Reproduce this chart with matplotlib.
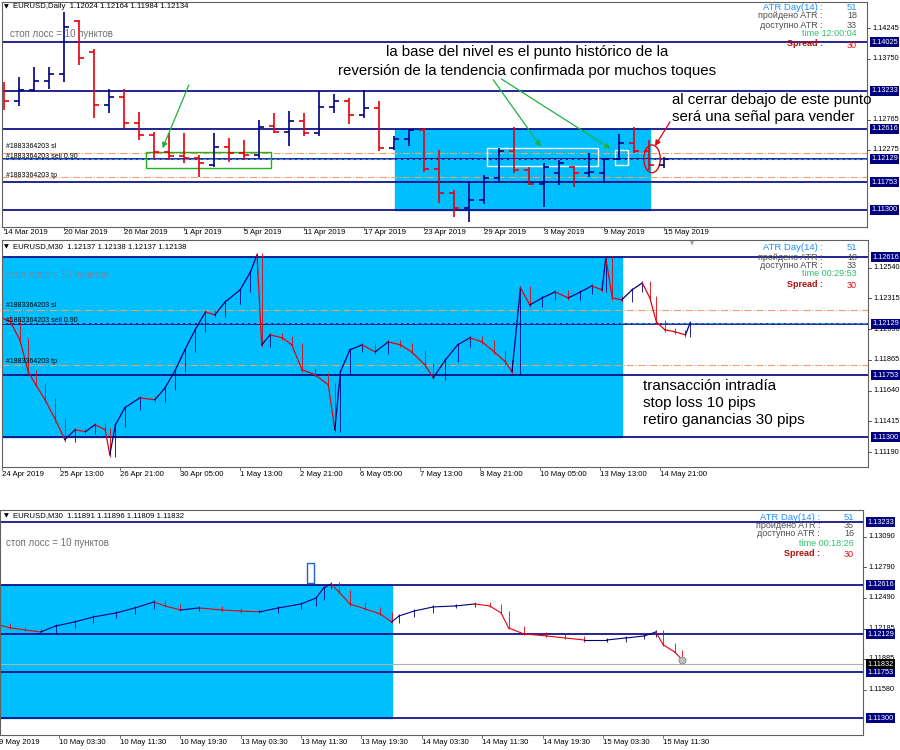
import numpy as np
import matplotlib
matplotlib.use("Agg")
import matplotlib.pyplot as plt
from matplotlib.patches import Rectangle, Ellipse

plt.rcParams['font.family'] = ['Liberation Sans', 'DejaVu Sans']
NARROW = ['Liberation Sans Narrow', 'Liberation Sans', 'DejaVu Sans']

NAVY = '#00007f'
RED = '#e8000b'
SKY = '#00bfff'
ORANGE = '#f0a070'

# levels drawn on every chart
levels = [1.14025, 1.13233, 1.12616, 1.12129, 1.11753, 1.11300]
sell_price = 1.12129
sl_price = 1.12229
tp_price = 1.11829

# ---- daily chart, 14 Mar - 15 May 2019 ----
d_dates = ['14 Mar 2019', '20 Mar 2019', '26 Mar 2019', '1 Apr 2019', '5 Apr 2019', '11 Apr 2019',
           '17 Apr 2019', '23 Apr 2019', '29 Apr 2019', '3 May 2019', '9 May 2019', '15 May 2019']
d_open = [1.1324, 1.1306, 1.1325, 1.1340, 1.1350, 1.1436, 1.1386, 1.1300, 1.1313, 1.1271, 1.1252,
          1.1224, 1.1218, 1.1214, 1.1203, 1.1232, 1.1222, 1.1219, 1.1266, 1.1257, 1.1275, 1.1255,
          1.1297, 1.1306, 1.1284, 1.1296, 1.1231, 1.1245, 1.1260, 1.1197, 1.1158, 1.1133, 1.1146,
          1.1182, 1.1226, 1.1195, 1.1172, 1.1190, 1.1200, 1.1190, 1.1190, 1.1212, 1.1239, 1.1225, 1.12024]
d_high = [1.1338, 1.1345, 1.1362, 1.1362, 1.1451, 1.1438, 1.1391, 1.1326, 1.1327, 1.1289, 1.1257,
          1.1255, 1.1255, 1.1219, 1.1255, 1.1247, 1.1243, 1.1276, 1.1288, 1.1290, 1.1288, 1.1323,
          1.1318, 1.1312, 1.1324, 1.1306, 1.1250, 1.1262, 1.1263, 1.1227, 1.1163, 1.1174, 1.1187,
          1.1230, 1.1265, 1.1200, 1.1206, 1.1211, 1.1202, 1.1222, 1.1214, 1.1253, 1.1265, 1.1244, 1.12164]
d_low = [1.1293, 1.1299, 1.1322, 1.1327, 1.1338, 1.1366, 1.1279, 1.1288, 1.1263, 1.1244, 1.1213,
         1.1211, 1.1206, 1.1184, 1.1200, 1.1208, 1.1211, 1.1214, 1.1255, 1.1233, 1.1250, 1.1250,
         1.1288, 1.1270, 1.1280, 1.1226, 1.1228, 1.1233, 1.1192, 1.1141, 1.1118, 1.1111, 1.1140,
         1.1177, 1.1190, 1.1171, 1.1135, 1.1171, 1.1167, 1.1184, 1.1174, 1.1212, 1.1222, 1.1195, 1.11984]
d_close = [1.1306, 1.1325, 1.1340, 1.1350, 1.1427, 1.1376, 1.1300, 1.1313, 1.1271, 1.1252, 1.1224,
           1.1218, 1.1214, 1.1206, 1.1232, 1.1222, 1.1219, 1.1265, 1.1257, 1.1275, 1.1255, 1.1297,
           1.1306, 1.1284, 1.1296, 1.1231, 1.1245, 1.1260, 1.1197, 1.1158, 1.1133, 1.1146, 1.1182,
           1.1226, 1.1195, 1.1172, 1.1200, 1.1206, 1.1190, 1.1192, 1.1212, 1.1239, 1.1225, 1.1203, 1.12134]

# ---- M30 chart, 24 Apr - 14 May (sampled closes, bar index) ----
m1_labels = ['24 Apr 2019', '25 Apr 13:00', '26 Apr 21:00', '30 Apr 05:00', '1 May 13:00', '2 May 21:00',
             '6 May 05:00', '7 May 13:00', '8 May 21:00', '10 May 05:00', '13 May 13:00', '14 May 21:00']
m1_bar = [0, 9, 19, 28, 36, 46, 57, 67, 78, 89, 99, 110, 115, 121, 131, 147, 163, 174, 185, 195,
          206, 217, 227, 238, 254, 265, 272, 277, 286, 299, 309, 320, 334, 348, 355, 361, 371, 384,
          398, 412, 425, 437, 451, 460, 473, 486, 499, 512, 525, 537, 544, 553, 563, 576, 590, 604,
          617, 629, 640, 644, 651, 661, 672, 683, 691, 698, 707, 718, 729, 734]
m1_close = [1.12172, 1.12143, 1.12011, 1.11778, 1.11683, 1.11573, 1.11427, 1.11281, 1.11354, 1.11339,
            1.11390, 1.11354, 1.11171, 1.11390, 1.11514, 1.11587, 1.11573, 1.11661, 1.11792, 1.11938,
            1.12085, 1.12216, 1.12194, 1.12289, 1.12377, 1.12508, 1.12633, 1.11975, 1.12048, 1.12026,
            1.11975, 1.11792, 1.11756, 1.11683, 1.11354, 1.11778, 1.11938, 1.11975, 1.11923, 1.11997,
            1.11975, 1.11923, 1.11829, 1.11734, 1.11865, 1.11975, 1.12026, 1.11997, 1.11923, 1.11850,
            1.11778, 1.12392, 1.12267, 1.12318, 1.12362, 1.12318, 1.12362, 1.12406, 1.12377, 1.12611,
            1.12318, 1.12304, 1.12377, 1.12428, 1.12318, 1.12143, 1.12085, 1.12070, 1.12048, 1.12136]

# ---- M30 chart, 9 May - 15 May ----
m2_labels = ['9 May 2019', '10 May 03:30', '10 May 11:30', '10 May 19:30', '13 May 03:30', '13 May 11:30',
             '13 May 19:30', '14 May 03:30', '14 May 11:30', '14 May 19:30', '15 May 03:30', '15 May 11:30']
m2_bar = [0, 3, 7, 11, 15, 20, 25, 31, 36, 41, 44, 48, 53, 59, 64, 69, 74, 80, 84, 86, 88, 90, 93,
          97, 101, 104, 106, 110, 115, 121, 126, 130, 133, 135, 139, 145, 150, 155, 161, 166, 171,
          174, 176, 179, 181]
m2_close = [1.12220, 1.12191, 1.12171, 1.12151, 1.12210, 1.12250, 1.12299, 1.12339, 1.12388, 1.12447,
            1.12408, 1.12368, 1.12388, 1.12368, 1.12358, 1.12349, 1.12388, 1.12427, 1.12486, 1.12585,
            1.12625, 1.12546, 1.12427, 1.12378, 1.12329, 1.12250, 1.12309, 1.12358, 1.12398, 1.12408,
            1.12427, 1.12408, 1.12339, 1.12191, 1.12132, 1.12112, 1.12092, 1.12072, 1.12072, 1.12092,
            1.12112, 1.12151, 1.12023, 1.11954, 1.11876]


def fx(px):
    return px / 900


def fy(py):
    return 1 - py / 750


def ohlc(ax, x, o, h, l, c, tick):
    for xi, oi, hi, li, ci in zip(x, o, h, l, c):
        col = NAVY if ci >= oi else RED
        ax.vlines(xi, li, hi, color=col, lw=1.2)
        ax.hlines(oi, xi - tick, xi, color=col, lw=1.2)
        ax.hlines(ci, xi, xi + tick, color=col, lw=1.2)


def closes(ax, x, c, lw=0.9):
    for i in range(1, len(x)):
        col = NAVY if c[i] >= c[i - 1] else RED
        ax.plot([x[i - 1], x[i]], [c[i - 1], c[i]], color=col, lw=lw)
        ax.vlines(x[i], min(c[i - 1], c[i]) - 0.00015, max(c[i - 1], c[i]) + 0.00015, color=col, lw=0.6)


def frame(ax, ylim, xlim):
    ax.set_xlim(*xlim)
    ax.set_ylim(*ylim)
    ax.set_xticks([])
    ax.set_yticks([])
    for s in ax.spines.values():
        s.set_color('#606060')
        s.set_linewidth(0.8)


def header(xpx, ypx, txt):
    fig.text(fx(xpx), fy(ypx), '\u25bc', fontsize=4.5, va='center', ha='left', family='DejaVu Sans')
    fig.text(fx(xpx + 9), fy(ypx), txt, fontsize=5.6, va='center', ha='left', family=NARROW)


def right_labels(ax, xr, plain, boxed, extra_box=None):
    for v in plain:
        y = ax.transData.transform((0, v))[1]
        fig.add_artist(plt.Line2D([fx(xr), fx(xr + 3)], [y / 750, y / 750], color='#404040', lw=0.6))
        fig.text(fx(xr + 5), y / 750, '%.5f' % v, fontsize=5.3, va='center', ha='left')
    for v in boxed:
        y = ax.transData.transform((0, v))[1]
        fig.text(fx(xr + 4), y / 750, '%.5f' % v, fontsize=5.3, va='center', ha='left', color='white',
                 bbox=dict(boxstyle='square,pad=0.2', fc=NAVY, ec='none'))
    if extra_box is not None:
        y = ax.transData.transform((0, extra_box))[1]
        fig.text(fx(xr + 4), y / 750, '%.5f' % extra_box, fontsize=5.3, va='center', ha='left', color='white',
                 bbox=dict(boxstyle='square,pad=0.2', fc='black', ec='none'))


def info(xl, xv, ys, passed, avail, time):
    fig.text(fx(xl), fy(ys[0]), 'ATR Day(14) :', fontsize=6.8, color='#1e90ff', ha='right', va='center')
    fig.text(fx(xv), fy(ys[0]), '51', fontsize=6.8, color='#1e90ff', ha='right', va='center')
    fig.text(fx(xl), fy(ys[1]), 'пройдено ATR :', fontsize=6.5, color='#505050', ha='right', va='center')
    fig.text(fx(xv), fy(ys[1]), passed, fontsize=6.5, color='#505050', ha='right', va='center')
    fig.text(fx(xl), fy(ys[2]), 'доступно ATR :', fontsize=6.5, color='#505050', ha='right', va='center')
    fig.text(fx(xv), fy(ys[2]), avail, fontsize=6.5, color='#505050', ha='right', va='center')
    fig.text(fx(xv), fy(ys[3]), 'time ' + time, fontsize=6.5, color='#30c070', ha='right', va='center')
    fig.text(fx(xl), fy(ys[4]), 'Spread :', fontsize=6.5, color='#b01010', ha='right', va='center',
             fontweight='bold')
    fig.text(fx(xv), fy(ys[4] + 1.5), '30', fontsize=6.5, color='#e01010', ha='right', va='center')


def x_labels(ax, pos, labels, ypx, ybot):
    for p, t in zip(pos, labels):
        x = ax.transData.transform((p, 0))[0]
        fig.text(x / 900, fy(ypx), t, fontsize=5.6, ha='left', va='center', family=NARROW)
        fig.add_artist(plt.Line2D([x / 900, x / 900], [fy(ybot), fy(ybot + 3)], color='#606060', lw=0.6))


fig = plt.figure(figsize=(9, 7.5), dpi=100)
fig.patch.set_facecolor('white')

# ---------- panel 1 ----------
ax1 = fig.add_axes([fx(2), fy(227), fx(865), 225 / 750])
frame(ax1, (1.11024, 1.14674), (-0.13, 57.53))
ax1.add_patch(Rectangle((26.07, 1.11300), 17.0, 1.12616 - 1.11300, color=SKY, zorder=0))
for lv in levels:
    ax1.axhline(lv, color=NAVY, lw=1.2, zorder=1)
ax1.axhline(sl_price, color=ORANGE, lw=0.8, ls='-.', zorder=1)
ax1.axhline(tp_price, color=ORANGE, lw=0.8, ls='-.', zorder=1)
ax1.axhline(sell_price + 0.00005, color='#40a0e0', lw=0.8, ls='--', zorder=1)
ohlc(ax1, np.arange(len(d_open)), d_open, d_high, d_low, d_close, 0.35)
fig.text(fx(6), fy(148), '#1883364203 sl', fontsize=5)
fig.text(fx(6), fy(158), '#1883364203 sell 0.90', fontsize=5)
fig.text(fx(6), fy(177), '#1883364203 tp', fontsize=5)
fig.text(fx(10), fy(34), 'стоп лосс = 10 пунктов', fontsize=7, color='#707070', va='center')
ax1.add_patch(Rectangle((9.5, 1.11985), 8.3, 0.0026, fill=False, ec='#20b020', lw=1))
ax1.add_patch(Rectangle((32.2, 1.12010), 7.4, 0.0029, fill=False, ec='white', lw=1))
ax1.add_patch(Rectangle((40.7, 1.12030), 0.9, 0.0025, fill=False, ec='white', lw=1))
ax1.add_patch(Ellipse((43.2, 1.12130), 1.1, 0.0045, fill=False, ec=RED, lw=1))
fig.text(fx(527), fy(52), 'la base del nivel es el punto histórico de la', fontsize=10.8, ha='center', va='center')
fig.text(fx(527), fy(71), 'reversión de la tendencia confirmada por muchos toques', fontsize=10.8,
         ha='center', va='center')
fig.text(fx(672), fy(100), 'al cerrar debajo de este punto', fontsize=10.8, ha='left', va='center')
fig.text(fx(672), fy(117), 'será una señal para vender', fontsize=10.8, ha='left', va='center')
arr = dict(arrowstyle='-|>', color='#20b040', lw=0.9, mutation_scale=8)
ax1.annotate('', xy=(10.5, 1.12260), xytext=(12.4, 1.1337), arrowprops=arr)
ax1.annotate('', xy=(35.9, 1.12290), xytext=(32.5, 1.1345), arrowprops=arr)
ax1.annotate('', xy=(40.6, 1.12270), xytext=(33.0, 1.1345), arrowprops=arr)
ax1.annotate('', xy=(43.3, 1.12300), xytext=(44.5, 1.1277),
             arrowprops=dict(arrowstyle='-|>', color=RED, lw=0.9, mutation_scale=8))

# ---------- panel 2 ----------
ax2 = fig.add_axes([fx(2), fy(467), fx(866), 227 / 750])
frame(ax2, (1.11081, 1.12742), (0, 923.7))
ax2.add_patch(Rectangle((0, 1.11300), 661.3, 1.12616 - 1.11300, color=SKY, zorder=0))
for lv in levels:
    ax2.axhline(lv, color=NAVY, lw=1.2, zorder=1)
ax2.axhline(sl_price, color=ORANGE, lw=0.8, ls='-.', zorder=1)
ax2.axhline(tp_price, color=ORANGE, lw=0.8, ls='-.', zorder=1)
ax2.axhline(sell_price + 0.00003, color='#40a0e0', lw=0.8, ls='--', zorder=1)
closes(ax2, m1_bar, m1_close)
fig.text(fx(6), fy(306), '#1883364203 sl', fontsize=5, va='center')
fig.text(fx(6), fy(321), '#1883364203 sell 0.90', fontsize=5, va='center')
fig.text(fx(6), fy(361), '#1883364203 tp', fontsize=5, va='center')
fig.text(fx(6), fy(275), 'стоп лосс = 10 пунктов', fontsize=7, color='#6a8aa8', va='center')
fig.text(fx(643), fy(386), 'transacción intradía', fontsize=11, ha='left', va='center')
fig.text(fx(643), fy(403), 'stop loss 10 pips', fontsize=11, ha='left', va='center')
fig.text(fx(643), fy(420), 'retiro ganancias 30 pips', fontsize=11, ha='left', va='center')
fig.text(fx(692), fy(244), '\u25bc', fontsize=4, color='#a0a0a0', ha='center', va='center', family='DejaVu Sans')

# ---------- panel 3 ----------
ax3 = fig.add_axes([fx(0), fy(735), fx(863), 225 / 750])
frame(ax3, (1.11135, 1.13354), (0.25, 228.9))
ax3.add_patch(Rectangle((0, 1.11300), 104.2, 1.12616 - 1.11300, color=SKY, zorder=0))
for lv in levels:
    ax3.axhline(lv, color=NAVY, lw=1.2, zorder=1)
ax3.axhline(1.11832, color='#b0b0b0', lw=0.8, zorder=1)
closes(ax3, m2_bar, m2_close, lw=0.8)
ax3.plot(m2_bar[-1], m2_close[-1], 'o', ms=5, mfc='#c0c0c0', mec='#808080', mew=0.6)
ax3.add_patch(Rectangle((81.6, 1.1263), 1.9, 0.0020, fill=False, ec='#2060d0', lw=1))
fig.text(fx(6), fy(543), 'стоп лосс = 10 пунктов', fontsize=7, color='#707070', va='center')

fig.canvas.draw()
header(4, 7, 'EURUSD,Daily  1.12024 1.12164 1.11984 1.12134')
header(4, 247, 'EURUSD,M30  1.12137 1.12138 1.12137 1.12138')
header(4, 516, 'EURUSD,M30  1.11891 1.11896 1.11809 1.11832')
info(823, 857, [8, 16, 25, 34, 44], '18', '33', '12:00:04')
info(823, 857, [248, 257, 266, 274, 284], '18', '33', '00:29:53')
info(820, 854, [518, 526, 534, 543, 553], '35', '16', '00:18:26')
right_labels(ax1, 867, [1.14245, 1.13750, 1.12765, 1.12275], levels)
right_labels(ax2, 868, [1.12540, 1.12315, 1.12090, 1.11865, 1.11640, 1.11415, 1.11190], levels[2:])
right_labels(ax3, 863, [1.13090, 1.12790, 1.12490, 1.12185, 1.11885, 1.11580], levels[1:], 1.11832)
x_labels(ax1, np.arange(0, 45, 4), d_dates, 233, 227)
x_labels(ax2, [0] + [62 + 64 * k for k in range(11)], m1_labels, 474, 467)
x_labels(ax3, np.arange(0, 12) * 16, m2_labels, 742, 735)

fig.savefig('out.png', dpi=100)
